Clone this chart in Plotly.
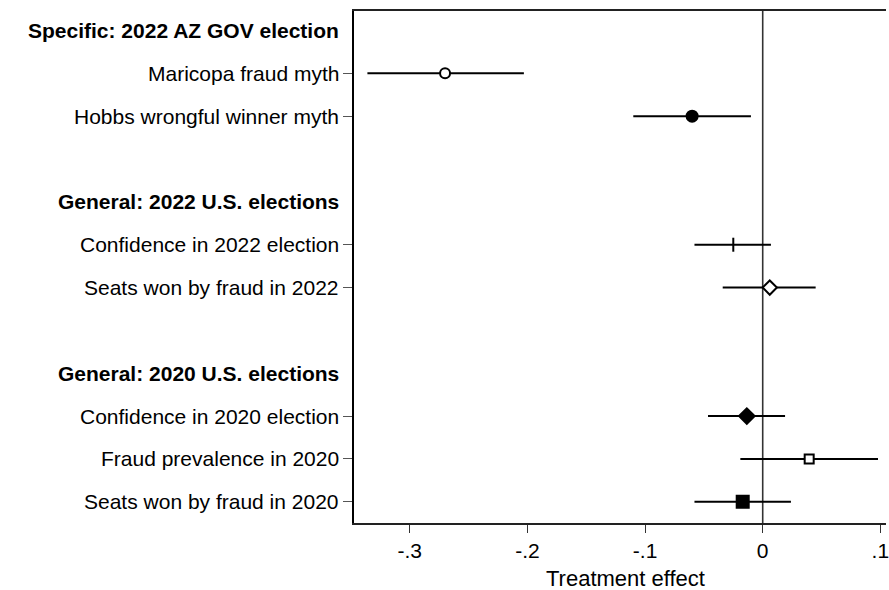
import plotly.graph_objects as go

# ---- data ----
headers = ["Specific: 2022 AZ GOV election", "General: 2022 U.S. elections", "General: 2020 U.S. elections"]
header_rows = [0, 4, 8]
items = ["Maricopa fraud myth", "Hobbs wrongful winner myth",
         "Confidence in 2022 election", "Seats won by fraud in 2022",
         "Confidence in 2020 election", "Fraud prevalence in 2020", "Seats won by fraud in 2020"]
item_rows = [1, 2, 5, 6, 9, 10, 11]
estimate = [-0.270, -0.060, -0.025, 0.006, -0.0135, 0.0395, -0.017]
ci_low = [-0.336, -0.110, -0.058, -0.034, -0.0465, -0.019, -0.058]
ci_high = [-0.203, -0.010, 0.007, 0.045, 0.019, 0.098, 0.024]
x_ticks = [-0.3, -0.2, -0.1, 0, 0.1]
x_ticklabels = ["-.3", "-.2", "-.1", "0", ".1"]
x_title = "Treatment effect"

# ---- styles ----
FONT = "Liberation Sans, Arial, Helvetica, sans-serif"
symbols = ["circle", "circle", "line-ns-open", "diamond", "diamond", "square", "square"]
fills = ["white", "black", "black", "white", "black", "white", "black"]
sizes = [10, 11, 10, 11, 12, 9, 12]

fig = go.Figure()
fig.add_trace(go.Scatter(
    x=estimate, y=item_rows, mode="markers",
    error_x=dict(type="data", symmetric=False,
                 array=[h - e for h, e in zip(ci_high, estimate)],
                 arrayminus=[e - l for e, l in zip(estimate, ci_low)],
                 width=0, thickness=2, color="black"),
    marker=dict(symbol=symbols, color=fills, size=sizes, opacity=1,
                line=dict(color="black", width=2)),
    opacity=1,
    showlegend=False, hoverinfo="skip"))

fig.add_shape(type="line", x0=0, x1=0, xref="x", y0=0, y1=1, yref="paper",
              line=dict(color="#333333", width=1.6), layer="below")

L, R, T, B, W, H = 354, 0, 11, 67, 889, 590
plot_w = W - L - R
plot_h = H - T - B

annotations = []
for txt, r in zip(items, item_rows):
    annotations.append(dict(text=txt, x=0, xref="paper", xanchor="right", xshift=-13,
                            y=r, yref="y", yanchor="middle", showarrow=False,
                            font=dict(family=FONT, size=21, color="black")))
for txt, r in zip(headers, header_rows):
    annotations.append(dict(text="<b>" + txt + "</b>", x=0, xref="paper", xanchor="right", xshift=-13,
                            y=r, yref="y", yanchor="middle", showarrow=False,
                            font=dict(family=FONT, size=21, color="black")))
annotations.append(dict(text=x_title, x=(627.5 - L) / plot_w, xref="paper", xanchor="center",
                        y=(T + plot_h - 578) / plot_h, yref="paper", yanchor="middle",
                        showarrow=False, font=dict(family=FONT, size=22, color="black")))

fig.update_layout(
    width=W, height=H,
    margin=dict(l=L, r=R, t=T, b=B),
    paper_bgcolor="white", plot_bgcolor="white",
    font=dict(family=FONT, color="black"),
    annotations=annotations,
    xaxis=dict(range=[-0.3474, 0.1048], tickvals=x_ticks, ticktext=x_ticklabels,
               ticks="outside", ticklen=8, tickwidth=1, tickcolor="#333333",
               tickfont=dict(family=FONT, size=21, color="black"),
               ticklabeloverflow="allow",
               showline=True, linecolor="#222222", linewidth=2, mirror=True,
               showgrid=False, zeroline=False),
    yaxis=dict(range=[11.495, -0.455], tickvals=item_rows, showticklabels=False,
               ticks="outside", ticklen=9, tickwidth=1, tickcolor="#555555",
               showline=True, linecolor="black", linewidth=2, mirror=False,
               showgrid=False, zeroline=False),
)

fig.write_html("out.html", config={"displayModeBar": False, "staticPlot": True},
               post_script="document.body.style.margin='0';document.body.style.overflow='hidden';")
